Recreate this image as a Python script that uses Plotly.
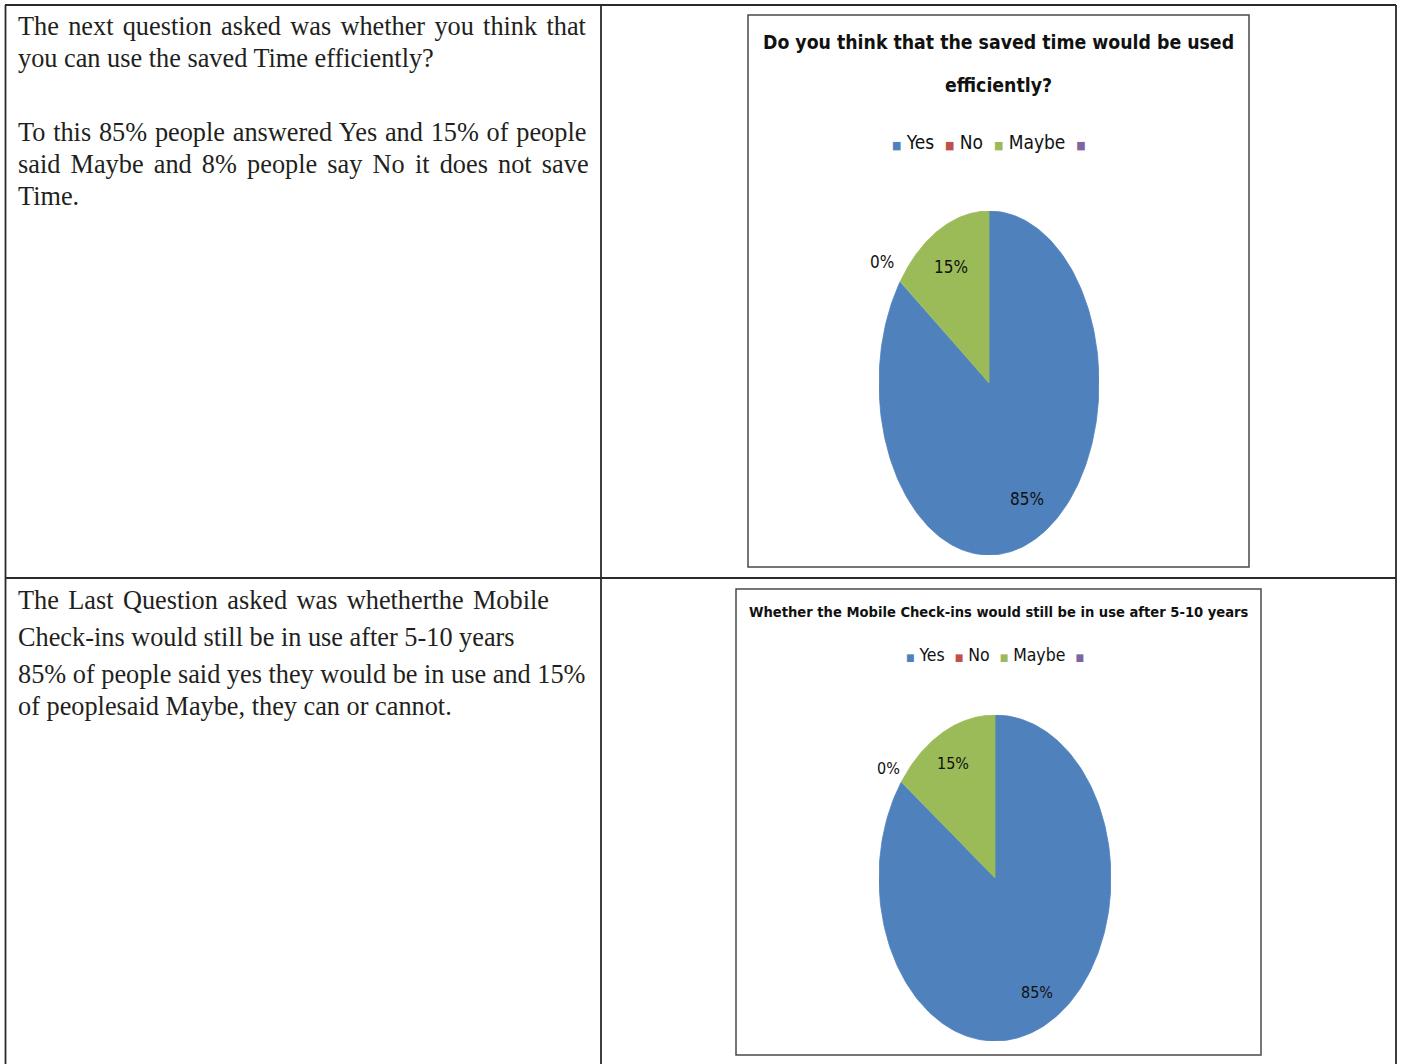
import numpy as np
import plotly.graph_objects as go

W, H = 1401, 1064

# ---------------- data ----------------
categories = ["Yes", "No", "Maybe", ""]
colors = ["#4F81BD", "#C0504D", "#9BBB59", "#8064A2"]
q1_title_lines = ["Do you think that the saved time would be used", "efficiently?"]
q1_values = [85, 0, 15, 0]
q2_title_lines = ["Whether the Mobile Check-ins would still be in use after 5-10 years"]
q2_values = [85, 0, 15, 0]

text1_lines = [
    "The next question asked was whether you think that",
    "you can use the saved Time efficiently?",
    "To this 85% people answered Yes and 15% of people",
    "said Maybe and 8% people say No it does not save",
    "Time.",
]
text2_lines = [
    "The Last Question asked was whetherthe Mobile",
    "Check-ins would still be in use after 5-10 years",
    "85% of people said yes they would be in use and 15%",
    "of peoplesaid Maybe, they can or cannot.",
]

# ---------------- helpers ----------------
def px(x):
    return x / W

def py(y):
    return 1 - y / H

fig = go.Figure()
shapes = []
annotations = []

COND = "DejaVu Sans Condensed, DejaVu Sans, sans-serif"
SERIF = "Liberation Serif, Times New Roman, serif"

# table lines
line = dict(color="#2a2a2a", width=1.8)
shapes += [
    dict(type="line", xref="paper", yref="paper", x0=px(5), x1=px(1396), y0=py(5), y1=py(5), line=line),
    dict(type="line", xref="paper", yref="paper", x0=px(5.5), x1=px(5.5), y0=py(5), y1=0, line=line),
    dict(type="line", xref="paper", yref="paper", x0=px(1396), x1=px(1396), y0=py(5), y1=0, line=line),
    dict(type="line", xref="paper", yref="paper", x0=px(601), x1=px(601), y0=py(5), y1=0, line=line),
    dict(type="line", xref="paper", yref="paper", x0=px(5), x1=px(1396), y0=py(578), y1=py(578), line=line),
]

# body text (word-spacing approximates the justified lines)
def add_lines(lines, ys, spacings, size):
    for t, y, sp in zip(lines, ys, spacings):
        txt = f"<span style='word-spacing:{sp}px'>{t}</span>" if sp else t
        annotations.append(dict(
            text=txt, xref="paper", yref="paper", x=px(16), y=py(y),
            xanchor="left", yanchor="middle", showarrow=False,
            font=dict(family=SERIF, size=size, color="#231f20"),
        ))

add_lines(text1_lines, [26, 58, 132, 164, 196], [2.7, 0, 1.2, 3.6, 0], 26.3)
add_lines(text2_lines, [600, 637, 674, 706], [2.8, 0, 0, 0], 26.3)


def add_pie(values, idx, box, center, radii, title_lines, title_ys, title_size,
            legend_y, legend_size, label_size, r_in, r_out):
    x0b, y0b, x1b, y1b = box
    shapes.append(dict(type="rect", xref="paper", yref="paper",
                       x0=px(x0b), x1=px(x1b), y0=py(y1b), y1=py(y0b),
                       line=dict(color="#4a4a4a", width=1.5), fillcolor="rgba(0,0,0,0)"))
    cx, cy = center
    rx, ry = radii
    xa = "xaxis" if idx == 1 else f"xaxis{idx}"
    ya = "yaxis" if idx == 1 else f"yaxis{idx}"
    xr = "x" if idx == 1 else f"x{idx}"
    yr = "y" if idx == 1 else f"y{idx}"
    total = float(sum(values))
    cum = 0.0
    for cat, v, c in zip(categories, values, colors):
        frac = v / total
        a0 = np.pi / 2 - 2 * np.pi * cum
        a1 = np.pi / 2 - 2 * np.pi * (cum + frac)
        if frac > 0:
            th = np.linspace(a0, a1, 240)
            xs = np.concatenate([[0], np.cos(th), [0]])
            ys = np.concatenate([[0], np.sin(th), [0]])
            fig.add_trace(go.Scatter(x=xs, y=ys, xaxis=xr, yaxis=yr, mode="lines",
                                     fill="toself", fillcolor=c, line=dict(width=0.8, color=c),
                                     showlegend=False, hoverinfo="skip"))
        if cat:
            mid = (a0 + a1) / 2
            r = r_in if frac > 0 else r_out
            annotations.append(dict(
                text=f"{v:.0f}%", xref=xr, yref=yr, x=r * np.cos(mid), y=r * np.sin(mid),
                showarrow=False, xanchor="center", yanchor="middle",
                font=dict(family=COND, size=label_size, color="#111"),
            ))
        cum += frac
    fig.update_layout(**{
        xa: dict(domain=[px(cx - rx), px(cx + rx)], range=[-1, 1], visible=False, fixedrange=True),
        ya: dict(domain=[py(cy + ry), py(cy - ry)], range=[-1, 1], visible=False, fixedrange=True),
    })
    # title
    for t, ty in zip(title_lines, title_ys):
        annotations.append(dict(
            text=f"<b>{t}</b>", xref="paper", yref="paper", x=px((x0b + x1b) / 2), y=py(ty),
            xanchor="center", yanchor="middle", showarrow=False,
            font=dict(family=COND, size=title_size, color="#111"),
        ))
    # legend
    sq = int(round(legend_size * 0.6))
    parts = []
    for cat, c in zip(categories, colors):
        parts.append(f"<span style='color:{c};font-size:{sq}px'>■</span> {cat}")
    annotations.append(dict(
        text="  ".join(parts).rstrip(), xref="paper", yref="paper", x=px(cx), y=py(legend_y),
        xanchor="center", yanchor="middle", showarrow=False,
        font=dict(family=COND, size=legend_size, color="#111"),
    ))


add_pie(q1_values, 1, (748, 15, 1249, 567), (989, 383), (110, 172), q1_title_lines, [42, 85], 19.3,
        142, 19, 17, 0.76, 1.2)
add_pie(q2_values, 2, (736, 589, 1261, 1055), (995, 878), (116, 163), q2_title_lines, [611], 14.6,
        655, 17.5, 16, 0.79, 1.14)

fig.update_layout(
    width=W, height=H, margin=dict(l=0, r=0, t=0, b=0),
    paper_bgcolor="white", plot_bgcolor="rgba(0,0,0,0)",
    shapes=shapes, annotations=annotations, showlegend=False,
)

fig.write_html(
    "out.html",
    config={"displayModeBar": False},
    post_script="document.body.style.margin='0';document.body.style.overflow='hidden';",
)
